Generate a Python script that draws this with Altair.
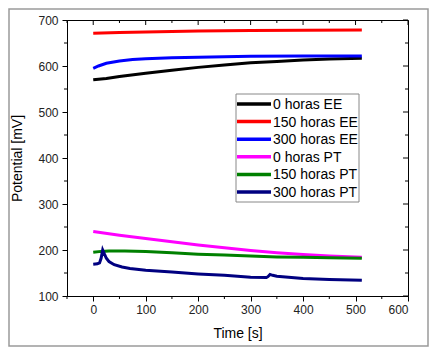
import altair as alt
import pandas as pd

series_names = ["0 horas EE", "150 horas EE", "300 horas EE", "0 horas PT", "150 horas PT", "300 horas PT"]
series_colors = ["#000000", "#ff0000", "#0000ff", "#ff00ff", "#008000", "#000080"]

t_0ee = [0, 25, 50, 100, 150, 200, 250, 300, 350, 400, 450, 512]
v_0ee = [570, 573, 577, 584, 591, 597, 602, 607, 610, 613, 615, 617]
t_150ee = [0, 50, 100, 200, 300, 400, 512]
v_150ee = [671, 673, 674, 676, 677, 677.5, 678]
t_300ee = [0, 10, 25, 50, 75, 100, 150, 200, 300, 400, 512]
v_300ee = [595, 600, 606, 611, 614, 616, 618, 619, 621, 621.5, 622]
t_0pt = [0, 50, 100, 150, 200, 250, 300, 350, 400, 450, 512]
v_0pt = [240, 232, 225, 218, 211, 205, 199, 194, 190, 187, 184]
t_150pt = [0, 15, 30, 60, 100, 150, 200, 250, 300, 350, 400, 450, 512]
v_150pt = [195, 197, 198, 198, 197, 194, 191, 189, 187, 185, 184, 183, 182]
t_300pt = [0, 8, 12, 15, 18, 21, 25, 30, 40, 55, 70, 100, 150, 200, 250, 300, 330, 333, 337, 342, 350, 400, 450, 512]
v_300pt = [169, 170, 172, 182, 200, 192, 182, 175, 168, 163, 160, 156, 152, 148, 145, 141, 140, 142, 147, 145, 143, 138, 136, 134]

x_major = [0, 100, 200, 300, 400, 500, 600]
x_minor = [-50, 50, 150, 250, 350, 450, 550]
y_major = [100, 200, 300, 400, 500, 600, 700]
y_minor = [150, 250, 350, 450, 550, 650]

W, H = 341, 276
FONT = "Liberation Sans"

rows = []
for name, ts, vs in zip(series_names,
                        [t_0ee, t_150ee, t_300ee, t_0pt, t_150pt, t_300pt],
                        [v_0ee, v_150ee, v_300ee, v_0pt, v_150pt, v_300pt]):
    for i, (t, v) in enumerate(zip(ts, vs)):
        rows.append({"series": name, "t": t, "v": v, "i": i})
df = pd.DataFrame(rows)

xs = alt.Scale(domain=[-50, 600], nice=False, zero=False)
ys = alt.Scale(domain=[100, 700], nice=False, zero=False)
cs = alt.Scale(domain=series_names, range=series_colors)

lines = alt.Chart(df).mark_line(strokeWidth=3).encode(
    x=alt.X("t:Q", scale=xs, title="Time [s]",
            axis=alt.Axis(values=x_major, tickSize=5, labelPadding=3, grid=False,
                          labelFontSize=12, titleFontSize=14, titlePadding=11,
                          labelColor="#222", titleColor="#000", domainColor="#000",
                          tickColor="#000", labelFont=FONT, titleFont=FONT,
                          titleFontWeight="normal")),
    y=alt.Y("v:Q", scale=ys, title="Potential [mV]",
            axis=alt.Axis(values=y_major, tickSize=5, labelPadding=4, grid=False,
                          labelFontSize=12, titleFontSize=14, titlePadding=13,
                          labelColor="#222", titleColor="#000", domainColor="#000",
                          tickColor="#000", labelFont=FONT, titleFont=FONT,
                          titleFontWeight="normal")),
    color=alt.Color("series:N", sort=series_names, scale=cs, legend=None),
    order="i:Q",
)

xmaj = pd.DataFrame({"x": x_major})
xmin = pd.DataFrame({"x": x_minor})
ymaj = pd.DataFrame({"y": y_major})
ymin = pd.DataFrame({"y": y_minor})

top_major = alt.Chart(xmaj).mark_rule(color="#000").encode(x=alt.X("x:Q", scale=xs), y=alt.value(0), y2=alt.value(5))
top_minor = alt.Chart(xmin).mark_rule(color="#000").encode(x=alt.X("x:Q", scale=xs), y=alt.value(0), y2=alt.value(3))
bot_minor = alt.Chart(xmin).mark_rule(color="#000").encode(x=alt.X("x:Q", scale=xs), y=alt.value(H), y2=alt.value(H + 3))
right_major = alt.Chart(ymaj).mark_rule(color="#000").encode(y=alt.Y("y:Q", scale=ys), x=alt.value(W - 5), x2=alt.value(W))
right_minor = alt.Chart(ymin).mark_rule(color="#000").encode(y=alt.Y("y:Q", scale=ys), x=alt.value(W - 3), x2=alt.value(W))
left_minor = alt.Chart(ymin).mark_rule(color="#000").encode(y=alt.Y("y:Q", scale=ys), x=alt.value(-3), x2=alt.value(0))

# manual legend
leg = pd.DataFrame({"series": series_names, "k": list(range(len(series_names)))})
leg_box = alt.Chart(pd.DataFrame({"a": [0]})).mark_rect(fill="white", stroke="#888", strokeWidth=1).encode(
    x=alt.value(169), x2=alt.value(292), y=alt.value(74), y2=alt.value(182))
leg_base = alt.Chart(leg).transform_calculate(py="84 + datum.k * 17.6")
leg_lines = leg_base.mark_rule(strokeWidth=3.5).encode(
    x=alt.value(170), x2=alt.value(204),
    y=alt.Y("py:Q", scale=None, axis=None),
    color=alt.Color("series:N", scale=cs, legend=None))
leg_text = leg_base.mark_text(align="left", baseline="middle", fontSize=14, font=FONT, color="#000", dy=1).encode(
    x=alt.value(206),
    y=alt.Y("py:Q", scale=None, axis=None),
    text="series:N")

frame = alt.Chart(pd.DataFrame({"a": [0]})).mark_rect(fill=None, stroke="#9a9a9a", strokeWidth=1.5).encode(
    x=alt.value(-58), x2=alt.value(361), y=alt.value(-11), y2=alt.value(326))

chart = alt.layer(lines, top_major, top_minor, bot_minor, right_major, right_minor, left_minor,
                  leg_box, leg_lines, leg_text, frame).properties(
    width=W, height=H,
    autosize=alt.AutoSizeParams(type="none"),
    padding={"left": 59, "top": 12, "right": 21, "bottom": 51},
    background="white",
).configure_view(stroke="#000", strokeWidth=1)

chart.save("out.html", embed_options={"renderer": "svg", "actions": False})
